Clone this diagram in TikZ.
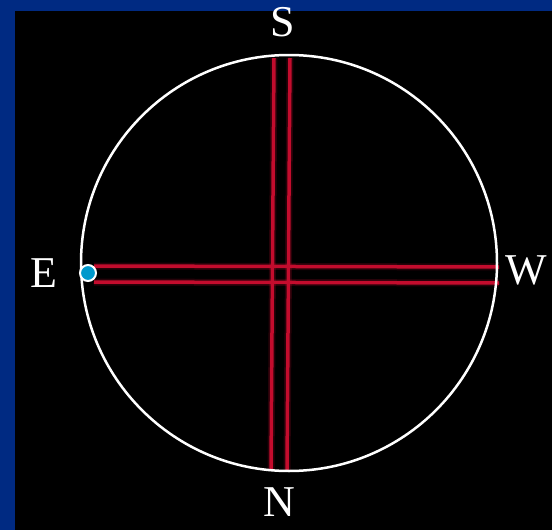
\documentclass[tikz,border=0pt]{standalone}
\usepackage{fontspec}
\setmainfont{Liberation Serif}
\usetikzlibrary{positioning}
\definecolor{frameblue}{RGB}{0,42,130}
\definecolor{wirered}{RGB}{195,12,45}
\definecolor{dotblue}{RGB}{0,153,204}
\tikzset{
    compass/.style = {text=white, inner sep=0pt, font=\fontsize{44}{44}\selectfont},
    glow/.style = {line width=7pt, draw=wirered, opacity=0.2},
    wire/.style = {line width=3.5pt, draw=wirered},
    rim/.style = {circle, draw=white, line width=2.5pt, minimum size=416pt, inner sep=0pt},
    marker/.style = {circle, draw=white, line width=2pt, fill=dotblue, minimum size=16pt, inner sep=0pt}
}

\begin{document}
\begin{tikzpicture}[x=1pt, y=-1pt]
        % Background
        \fill[frameblue] (0,0) rectangle (552,530);
        \fill[black] (15,11) rectangle (552,530);
        \useasboundingbox (0,0) rectangle (552,530);

        % Cross wires
        \foreach \xa/\xb in {274/271, 290/287} {
            \draw[glow] (\xa,58) -- (\xb,470);
            \draw[wire] (\xa,58) -- (\xb,470);
        }
        \foreach \ya/\yb in {266/267, 282/283} {
            \draw[glow] (94,\ya) -- (499,\yb);
            \draw[wire] (94,\ya) -- (499,\yb);
        }

        % Field of view
        \node (rim) [rim] at (289,263) {};

        % Marker on the rim
        \node (dot) [marker] at (88,273) {};

        % Cardinal labels
        \node (south) [compass] at (283,22) {S};
        \node (north) [compass] at (279,502) {N};
        \node (east) [compass, left=21pt of dot] {E};
        \node (west) [compass] at (526,270) {W};
\end{tikzpicture}
\end{document}
